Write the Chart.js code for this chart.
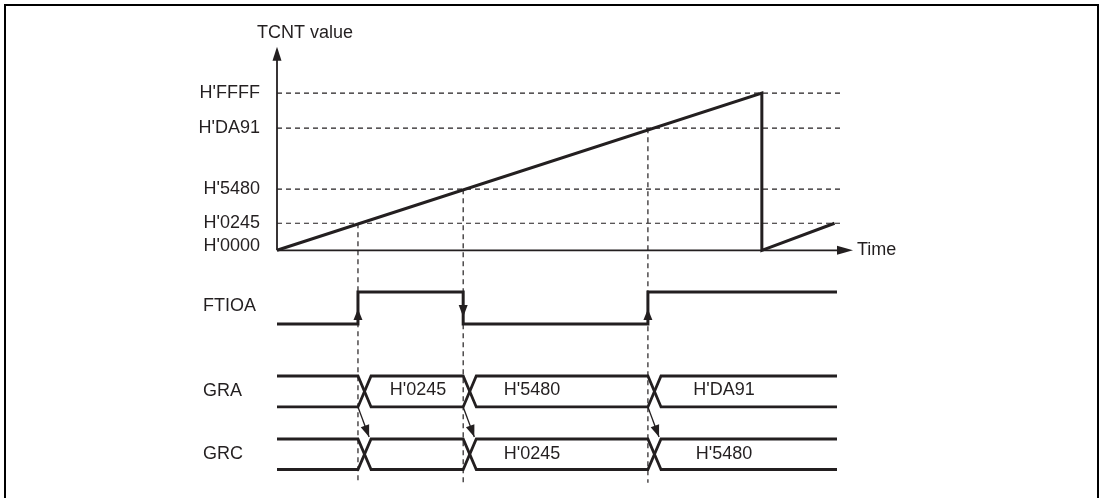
<!DOCTYPE html>
<html><head><meta charset="utf-8">
<script src="https://cdn.jsdelivr.net/npm/chart.js@4/dist/chart.umd.min.js"></script>
<style>html,body{margin:0;padding:0;background:#fff;overflow:hidden}#wrap{width:1102px;height:498px;position:relative}</style>
</head><body><div id="wrap"><canvas id="c" width="1102" height="498"></canvas></div>
<script>
// ---------- data (schematic units: time 0..100 = one counter period, TCNT 0..100 = H'0000..H'FFFF) ----------
const tickValues   = [0, 17.2, 38.9, 77.7, 100];
const tickLabels   = ["H'0000", "H'0245", "H'5480", "H'DA91", "H'FFFF"];
const compareTimes = [16.7, 38.4, 76.5];
const compareLevels= [17.2, 38.9, 77.7];
const counterTimes = [0, 100, 100, 115];
const counterValues= [0, 100, 0, 17.2];
const ftioaStates  = [0, 1, 0, 1];
const graValues    = ["", "H'0245", "H'5480", "H'DA91"];
const grcValues    = ["", "", "H'0245", "H'5480"];
const busLabelAt   = [null, 29.1, 52.6, 92.2];
const rowNames     = ["FTIOA", "GRA", "GRC"];
const endTime      = 115.5;
const guideEnd     = 116.5;
const timeAxisEnd  = 118.8;
const valueAxisEnd = 129.5;
const axisTitle    = "TCNT value";
const timeTitle    = "Time";
// row levels of the lower waveforms (schematic units)
const ftioaLow = -46.9, ftioaHigh = -26.5;
const graTop = -80, graBot = -99.7, grcTop = -120.1, grcBot = -139.5;
const guideBottom = -148;
const crossW = 2.7;

const INK = '#231f20';
const FONT = '18px "Liberation Sans", Arial, sans-serif';

// ---------- build datasets ----------
const pts = (xs, ys) => xs.map((x, i) => ({x, y: ys[i]}));
const line = (data, w, extra) => Object.assign({data, showLine: true, borderColor: INK, borderWidth: w,
  pointRadius: 0, tension: 0, fill: false, clip: false, borderJoinStyle: 'miter'}, extra || {});

const datasets = [];
// dashed guides (horizontal)
tickValues.forEach(v => { if (v > 0) datasets.push(line([{x:0,y:v},{x:guideEnd,y:v}], 1.2, {borderDash:[5,4]})); });
// dashed guides (vertical)
compareTimes.forEach((t, i) => datasets.push(line([{x:t,y:compareLevels[i]},{x:t,y:guideBottom}], 1.2, {borderDash:[5,4]})));
// axes
datasets.push(line([{x:0,y:0},{x:0,y:valueAxisEnd-8}], 1.8));
datasets.push(line([{x:0,y:0},{x:timeAxisEnd-3,y:0}], 1.8));
// counter ramp
datasets.push(line(pts(counterTimes, counterValues), 3));
// FTIOA
const lvl = s => s ? ftioaHigh : ftioaLow;
const ft = [{x:0, y:lvl(ftioaStates[0])}];
compareTimes.forEach((t, i) => { ft.push({x:t, y:lvl(ftioaStates[i])}); ft.push({x:t, y:lvl(ftioaStates[i+1])}); });
ft.push({x:endTime, y:lvl(ftioaStates[ftioaStates.length-1])});
datasets.push(line(ft, 3));
// buses
function bus(top, bot) {
  let a = top, b = bot;
  const A = [{x:0,y:a}], B = [{x:0,y:b}];
  compareTimes.forEach(t => {
    A.push({x:t,y:a}); A.push({x:t+crossW,y:b});
    B.push({x:t,y:b}); B.push({x:t+crossW,y:a});
    const s = a; a = b; b = s;
  });
  A.push({x:endTime,y:a}); B.push({x:endTime,y:b});
  datasets.push(line(A, 2.8)); datasets.push(line(B, 2.8));
}
bus(graTop, graBot);
bus(grcTop, grcBot);
// GRA -> GRC transfer arrows (shafts)
compareTimes.forEach(t => datasets.push(line([{x:t,y:graBot},{x:t+2.3,y:grcTop+1.3}], 1.3)));

// ---------- drawing helpers ----------
function arrowHead(ctx, tx, ty, dx, dy, len, hw) {
  const n = Math.hypot(dx, dy); dx /= n; dy /= n;
  const bx = tx - dx*len, by = ty - dy*len;
  ctx.beginPath();
  ctx.moveTo(tx, ty);
  ctx.lineTo(bx - dy*hw, by + dx*hw);
  ctx.lineTo(bx + dy*hw, by - dx*hw);
  ctx.closePath();
  ctx.fill();
}

const decor = {
  id: 'decor',
  beforeDraw(chart) {
    const ctx = chart.ctx;
    ctx.save();
    ctx.fillStyle = '#fff'; ctx.fillRect(0, 0, chart.width, chart.height);
    ctx.strokeStyle = '#000'; ctx.lineWidth = 2;
    ctx.strokeRect(5, 5, chart.width - 9, chart.height + 20);
    ctx.restore();
  },
  afterDatasetsDraw(chart) {
    const ctx = chart.ctx, X = chart.scales.x, Y = chart.scales.y;
    const px = v => X.getPixelForValue(v), py = v => Y.getPixelForValue(v);
    ctx.save();
    ctx.fillStyle = INK;
    // axis arrowheads
    arrowHead(ctx, px(0), py(valueAxisEnd), 0, -1, 14, 4.5);
    arrowHead(ctx, px(timeAxisEnd), py(0), 1, 0, 16, 4.5);
    // FTIOA edge arrows
    compareTimes.forEach((t, i) => {
      const up = ftioaStates[i+1] > ftioaStates[i];
      const mid = py((ftioaLow + ftioaHigh) / 2);
      if (up) arrowHead(ctx, px(t), mid + 1, 0, -1, 11, 4.5);
      else arrowHead(ctx, px(t), mid + 9, 0, 1, 12, 4.5);
    });
    // GRA -> GRC arrowheads
    compareTimes.forEach(t => {
      const x0 = px(t), y0 = py(graBot), x1 = px(t+2.3), y1 = py(grcTop+1.3);
      arrowHead(ctx, x1, y1, x1-x0, y1-y0, 12, 4.5);
    });
    // texts
    ctx.font = FONT;
    ctx.textBaseline = 'middle';
    ctx.textAlign = 'right';
    tickValues.forEach((v, i) => ctx.fillText(tickLabels[i], px(0) - 17, py(v) - (v === 0 ? 4 : 0)));
    ctx.textAlign = 'center';
    ctx.fillText(axisTitle, px(0) + 28, py(valueAxisEnd) - 14);
    ctx.textAlign = 'left';
    ctx.fillText(timeTitle, px(timeAxisEnd) + 4, py(0));
    const rowY = [(ftioaLow+ftioaHigh)/2, (graTop+graBot)/2, (grcTop+grcBot)/2];
    rowNames.forEach((n, i) => ctx.fillText(n, px(0) - 74, py(rowY[i]) - (i === 0 ? 2 : 0)));
    ctx.textAlign = 'center';
    graValues.forEach((s, i) => { if (s) ctx.fillText(s, px(busLabelAt[i]), py((graTop+graBot)/2) - 1); });
    grcValues.forEach((s, i) => { if (s) ctx.fillText(s, px(busLabelAt[i]), py((grcTop+grcBot)/2)); });
    ctx.restore();
  }
};

new Chart(document.getElementById('c'), {
  type: 'scatter',
  data: { datasets },
  options: {
    responsive: false, animation: false, events: [],
    layout: { padding: { left: 277, right: 249, top: 46, bottom: 12 } },
    plugins: { legend: { display: false }, tooltip: { enabled: false } },
    scales: {
      x: { type: 'linear', display: false, min: 0, max: timeAxisEnd },
      y: { type: 'linear', display: false, min: -150, max: 130 }
    }
  },
  plugins: [decor]
});
</script></body></html>
